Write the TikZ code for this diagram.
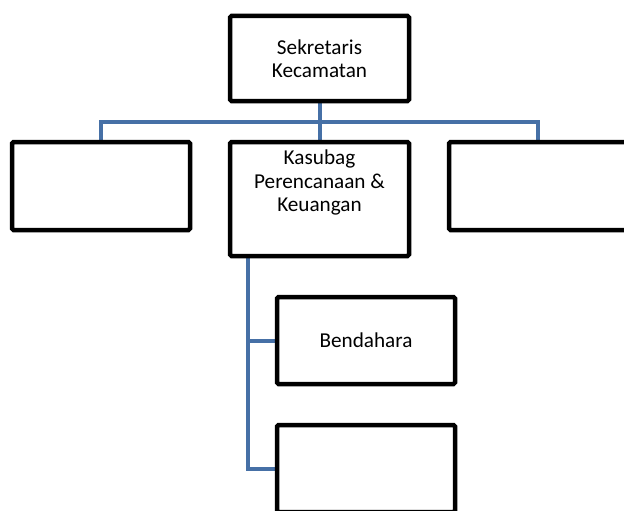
\documentclass[tikz,border=0pt]{standalone}
\usepackage{fontspec}
\setmainfont{Carlito}
\usepackage{tikz}
\usetikzlibrary{backgrounds}
\definecolor{linkblue}{RGB}{70, 112, 166}

\begin{document}
\begin{tikzpicture}[x=1pt, y=-1pt,
    box/.style={draw=black, line width=4.5, rounded corners=1.5, fill=white, align=center,
      font=\fontsize{21.2}{23.5}\selectfont, minimum width=178, minimum height=87, inner sep=0},
    link/.style={draw=linkblue, line width=4, line cap=round}]
  \useasboundingbox (0, 0) rectangle (624, 511);

  \node[box, minimum width=179, minimum height=85] (sek) at (319.5, 58.5) {Sekretaris\\Kecamatan};
  \node[box, minimum height=88] (kiri) at (101, 186) {};
  \node[box, minimum width=179, minimum height=114] (kasubag) at (319.5, 199) {};
  \node[align=center, anchor=north, inner sep=0, font=\fontsize{21.2}{23.5}\selectfont]
    (kasubagtext) at ([yshift=-10]kasubag.north) {Kasubag\\Perencanaan \&\\Keuangan};
  \node[box, minimum height=88] (kanan) at (538, 186) {};
  \node[box] (bendahara) at (366, 340.5) {Bendahara};
  \node[box] (bawah) at (366, 468.5) {};

  \coordinate (bus) at (319.5, 122);
  \coordinate (spine) at (248, 0);

  \begin{scope}[on background layer]
    \draw[link] (sek.south) -- (kasubag.north);
    \draw[link] (kiri.north) |- (bus) -| (kanan.north);
    \draw[link] (kasubag.south -| spine) |- (bawah.west);
    \draw[link] (bendahara.west -| spine) -- (bendahara.west);
  \end{scope}
\end{tikzpicture}
\end{document}
